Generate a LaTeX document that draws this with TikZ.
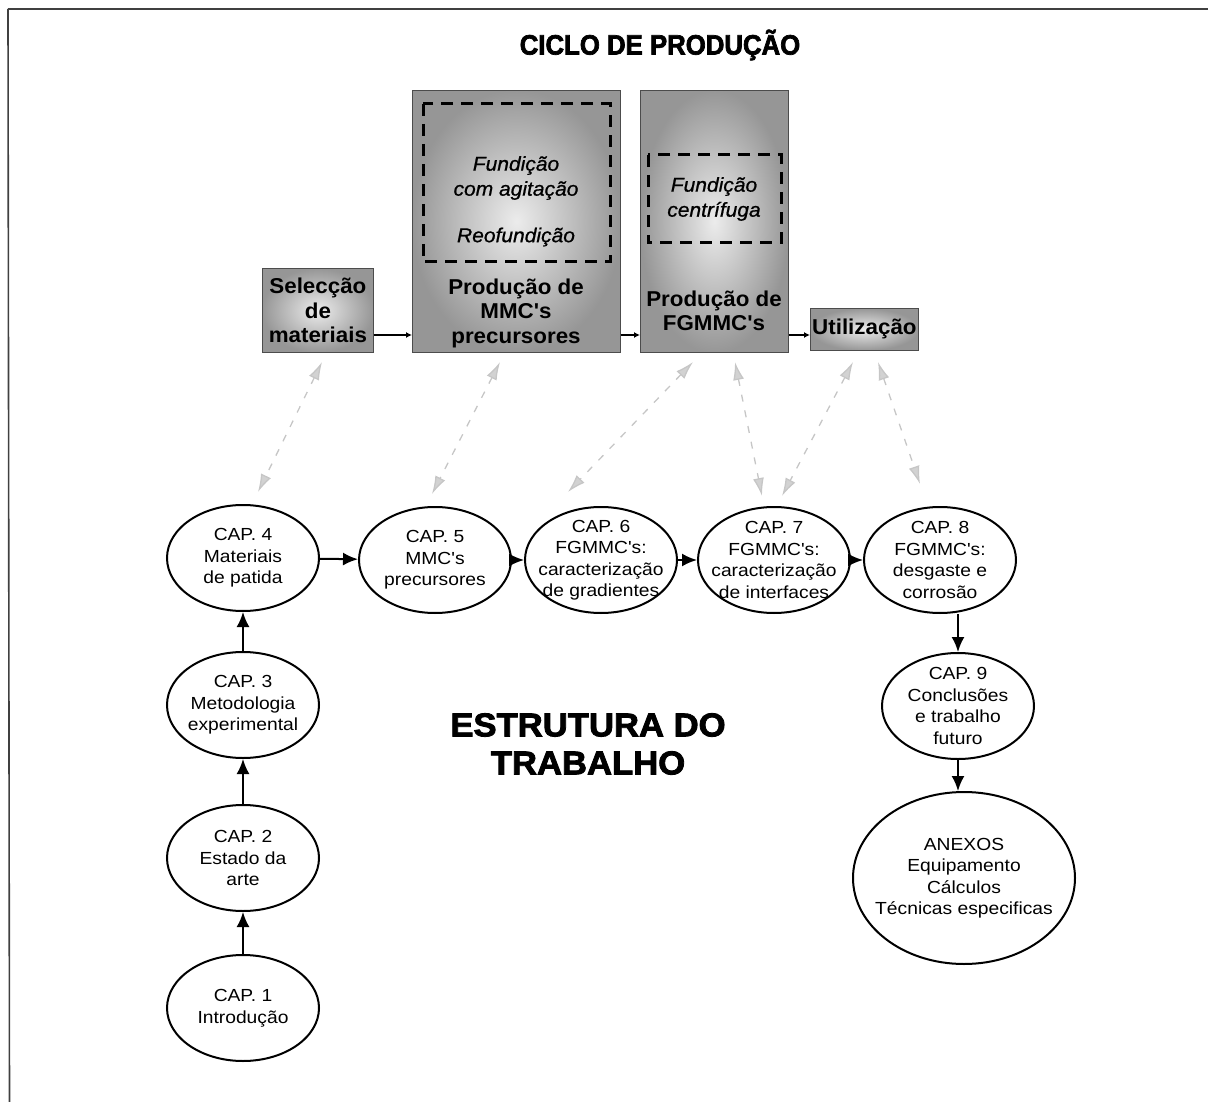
\documentclass[tikz,border=0pt]{standalone}
\usepackage{fontspec}
\setmainfont{Liberation Sans}
\newfontfamily\capfont[FakeStretch=1.1]{Liberation Sans}
\newfontfamily\boxfont[FakeStretch=1.04]{Liberation Sans}
\newfontfamily\itfont[FakeStretch=1.05,FakeBold=0.8]{Liberation Sans}
\newfontfamily\titlefont[FakeBold=2.5,FakeStretch=0.92]{Liberation Sans}
\newfontfamily\structfont[FakeBold=2.5,FakeStretch=1.05]{Liberation Sans}
\usetikzlibrary{shapes.geometric,arrows.meta}
\begin{document}
\begin{tikzpicture}[x=1pt,y=-1pt,
  chap/.style={draw, line width=2pt, ellipse, minimum width=152pt, minimum height=106pt, inner sep=0pt},
  captext/.style={font=\capfont\fontsize{17.5}{21.5}\selectfont, align=center, inner sep=0pt},
  stage/.style={draw=gray!60!black, line width=0.8pt, inner sep=0pt, anchor=north west, inner color=gray!15, outer color=gray!82},
  boxtext/.style={font=\boxfont\bfseries\fontsize{21.5}{24.5}\selectfont, align=center, inner sep=0pt},
  ittext/.style={font=\itfont\itshape\fontsize{20}{25}\selectfont, align=center, inner sep=0pt},
  dashbox/.style={draw, line width=3pt, dash pattern=on 12pt off 8pt},
  flow/.style={line width=2pt, -{Latex[length=15pt,width=13pt]}},
  link/.style={line width=2.5pt, -{Latex[length=6pt,width=6pt]}},
  ref/.style={draw=gray!45, line width=1.3pt, dash pattern=on 7pt off 9pt,
     {Latex[length=18pt,width=11pt,fill=gray!35]}-{Latex[length=18pt,width=11pt,fill=gray!35]}},
  heading/.style={inner sep=0pt, align=center}
]
\useasboundingbox (0,0) rectangle (1208,1102);
% frame
\draw[line width=2pt, black!75] (8,9) -- (1208,9);
\draw[line width=1.6pt, black!75] (8,9) -- (9.5,1102);

% title
\node[heading, font=\titlefont\bfseries\fontsize{28}{30}\selectfont] (title) at (660,45) {CICLO DE PRODUÇÃO};

% production cycle boxes
\node[stage, minimum width=111pt, minimum height=84pt] (sel) at (262,268) {};
\node[boxtext] (seltxt) at (sel.center) {Selecção\\de\\materiais};

\node[stage, minimum width=208pt, minimum height=262pt] (mmc) at (412,90) {};
\draw[dashbox] (423,104) rectangle (610,262);
\node[ittext] (mmcit) at (516,178) {Fundição\\com agitação};
\node[ittext] (reo) at (516,237) {Reofundição};
\node[boxtext] (mmctxt) at (516,313) {Produção de\\MMC's\\precursores};

\node[stage, minimum width=148pt, minimum height=262pt] (fg) at (640,90) {};
\draw[dashbox] (648,155) rectangle (781,243);
\node[ittext] (fgit) at (714,199) {Fundição\\centrífuga};
\node[boxtext] (fgtxt) at (714,311) {Produção de\\FGMMC's};

\node[stage, minimum width=108pt, minimum height=42pt] (uti) at (810,308) {};
\node[boxtext] (utitxt) at (uti.center) {Utilização};

\coordinate (s1) at (sel.east |- 0,335);
\coordinate (m1) at (mmc.west |- 0,335);
\coordinate (m2) at (mmc.east |- 0,335);
\coordinate (f1) at (fg.west |- 0,335);
\coordinate (f2) at (fg.east |- 0,335);
\coordinate (u1) at (uti.west |- 0,335);
\draw[link] (s1) -- (m1);
\draw[link] (m2) -- (f1);
\draw[link] (f2) -- (u1);

% chapters
\node[chap] (c4) at (243,558) {};
\node[captext] at (c4.center) {CAP. 4\\Materiais\\de patida};
\node[chap] (c5) at (435,560) {};
\node[captext] at (c5.center) {CAP. 5\\MMC's\\precursores};
\node[chap] (c6) at (601,560) {};
\node[captext] at (c6.center) {CAP. 6\\FGMMC's:\\caracterização\\de gradientes};
\node[chap] (c7) at (774,560) {};
\node[captext] at (c7.center) {CAP. 7\\FGMMC's:\\caracterização\\de interfaces};
\node[chap] (c8) at (940,560) {};
\node[captext] at (c8.center) {CAP. 8\\FGMMC's:\\desgaste e\\corrosão};
\node[chap] (c3) at (243,705) {};
\node[captext] at (c3.center) {CAP. 3\\Metodologia\\experimental};
\node[chap] (c2) at (243,858) {};
\node[captext] at (c2.center) {CAP. 2\\Estado da\\arte};
\node[chap] (c1) at (243,1008) {};
\node[captext] at (c1.center) {CAP. 1\\Introdução};
\node[chap] (c9) at (958,706) {};
\node[captext] at (c9.center) {CAP. 9\\Conclusões\\e trabalho\\futuro};
\node[chap, minimum width=222pt, minimum height=172pt] (anx) at (964,878) {};
\node[captext] at (anx.center) {ANEXOS\\Equipamento\\Cálculos\\Técnicas especificas};

\draw[flow] (c1) -- (c2);
\draw[flow] (c2) -- (c3);
\draw[flow] (c3) -- (c4);
\draw[flow] (c4) -- (c5);
\draw[flow] (c5) -- (c6);
\draw[flow] (c6) -- (c7);
\draw[flow] (c7) -- (c8);
\draw[flow] (c8.south -| c9.north) -- (c9.north);
\draw[flow] (c9.south) -- (c9.south |- anx.north);

% title of structure
\node[heading, font=\structfont\bfseries\fontsize{33}{38}\selectfont] (struct) at (588,744) {ESTRUTURA DO\\TRABALHO};

% cross references (dashed grey)
\coordinate (r1a) at (322,362); \coordinate (r1b) at (258,492);
\coordinate (r2a) at (500,362); \coordinate (r2b) at (432,494);
\coordinate (r3a) at (693,362); \coordinate (r3b) at (568,492);
\coordinate (r4a) at (735,362); \coordinate (r4b) at (762,496);
\coordinate (r5a) at (853,362); \coordinate (r5b) at (782,496);
\coordinate (r6a) at (878,362); \coordinate (r6b) at (920,484);
\draw[ref] (r1a) -- (r1b);
\draw[ref] (r2a) -- (r2b);
\draw[ref] (r3a) -- (r3b);
\draw[ref] (r4a) -- (r4b);
\draw[ref] (r5a) -- (r5b);
\draw[ref] (r6a) -- (r6b);
\end{tikzpicture}
\end{document}
